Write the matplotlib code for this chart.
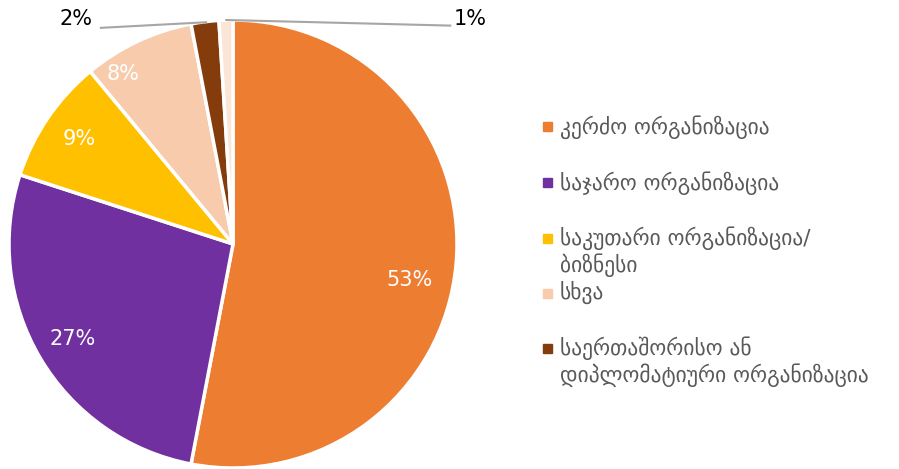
import matplotlib
matplotlib.use("Agg")
import matplotlib.pyplot as plt
import numpy as np

labels = ["კერძო ორგანიზაცია", "საჯარო ორგანიზაცია", "საკუთარი ორგანიზაცია/\nბიზნესი",
          "სხვა", "საერთაშორისო ან\nდიპლომატიური ორგანიზაცია", ""]
values = [53, 27, 9, 8, 2, 1]
colors = ["#ED7D31", "#7030A0", "#FFC000", "#F8CBAD", "#843C0C", "#FBE5D6"]

plt.rcParams['font.family'] = ['DejaVu Sans']
fig = plt.figure(figsize=(8.99, 4.69), dpi=100)
ax = fig.add_axes([9/899, 1/469, 448/899, 448/469])
wedges, texts, autotexts = ax.pie(values, colors=colors, startangle=90, counterclock=False,
                                  autopct=lambda p: f"{p:.0f}%", pctdistance=0.83,
                                  wedgeprops=dict(edgecolor="white", linewidth=2.5),
                                  textprops=dict(color="white", fontsize=15))
ax.set_xlim(-1, 1); ax.set_ylim(-1, 1); ax.set_aspect("equal")
for w in wedges:
    w.set_clip_on(False)
autotexts[0].set_position((0.79, -0.16))
autotexts[3].set_position((-0.49, 0.76))
autotexts[4].set_visible(False)
autotexts[5].set_visible(False)
ax.text(-0.70, 1.005, f"{values[4]}%", color="black", fontsize=15, ha="center", va="center", clip_on=False)
ax.text(1.06, 1.005, f"{values[5]}%", color="black", fontsize=15, ha="center", va="center", clip_on=False)
ax.plot([-0.59, -0.12], [0.965, 0.99], color="#A6A6A6", lw=1.5, clip_on=False)
ax.plot([-0.03, 0.97], [1.0, 0.975], color="#A6A6A6", lw=1.5, clip_on=False)

# legend
ys = [127, 183, 238, 293, 348]
for lab, c, y in zip(labels[:5], colors[:5], ys):
    fy = 1 - y / 469
    fig.patches.append(plt.Rectangle((543/899, fy - 4.5/469), 9/899, 9/469, color=c,
                                     transform=fig.transFigure, figure=fig))
    fig.text(560/899, fy + 12/469, lab, color="#595959", fontsize=15.5, va="top", ha="left",
             linespacing=1.2)
fig.savefig("out.png", dpi=100)
